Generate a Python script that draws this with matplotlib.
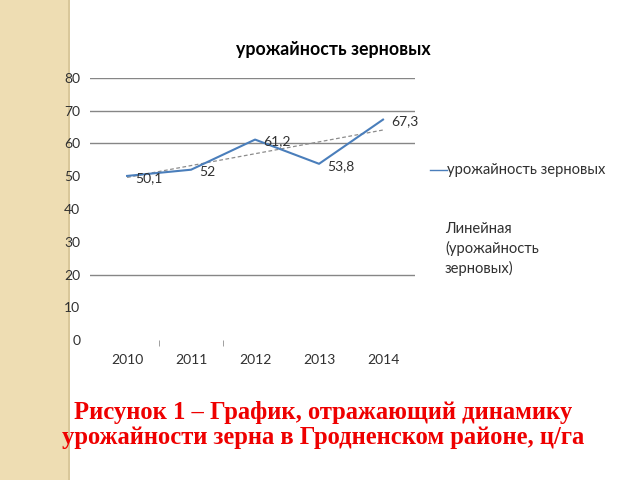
import numpy as np
import matplotlib
matplotlib.use("Agg")
import matplotlib.pyplot as plt
from matplotlib.lines import Line2D
from matplotlib.patches import Rectangle

# data
years = ["2010", "2011", "2012", "2013", "2014"]
yields = [50.1, 52, 61.2, 53.8, 67.3]
y_ticks = [0, 10, 20, 30, 40, 50, 60, 70, 80]
shown_grid = [20, 60, 70, 80]   # only these gridlines are visible in the original

title = "урожайность зерновых"
series_name = "урожайность зерновых"
trend_name = "Линейная\n(урожайность\nзерновых)"
caption = "Рисунок 1 – График, отражающий динамику\nурожайности зерна в Гродненском районе, ц/га"

plt.rcParams['font.family'] = ['Lato', 'DejaVu Sans']

fig = plt.figure(figsize=(6.4, 4.8), dpi=100)

# beige stripe on the left of the slide (behind everything)
fig.patches.append(Rectangle((0, 0), 70 / 640, 1, transform=fig.transFigure,
                             facecolor="#EEDDB3", edgecolor="none", zorder=-2))
fig.patches.append(Rectangle((68 / 640, 0), 2 / 640, 1, transform=fig.transFigure,
                             facecolor="#D9C79A", edgecolor="none", zorder=-2))

ax = fig.add_axes([90 / 640, 1 - 340 / 480, 325 / 640, 262 / 480])
ax.set_zorder(1)
ax.patch.set_alpha(0)

x = np.arange(len(years))
ax.plot(x, yields, color="#4A7EBB", lw=1.5, zorder=3)

# linear trend (like Excel's "Линейная")
k, b = np.polyfit(x, yields, 1)
ax.plot(x, k * x + b, color="#8C8C8C", lw=0.9, ls=(0, (3, 2)), zorder=2)

for xi, v in zip(x, yields):
    ax.annotate(f"{v:g}".replace(".", ","), (xi, v), xytext=(8, -2),
                textcoords="offset pixels", ha="left", va="center",
                fontsize=10, color="#303030")

ax.set_xlim(-0.58, 4.5)
ax.set_ylim(0, 80)
ax.set_xticks(x)
ax.set_xticklabels(years)
ax.set_xticks([0.5, 1.5], minor=True)
ax.set_yticks(y_ticks)
ax.tick_params(axis="both", which="major", length=0, labelsize=10, colors="#303030")
ax.tick_params(axis="x", which="major", pad=10)
ax.tick_params(axis="y", which="major", pad=7)
ax.tick_params(axis="x", which="minor", length=4, color="#909090", direction="out")

ax.yaxis.grid(True, color="#868686", lw=1)
for val, gl in zip(y_ticks, ax.yaxis.get_gridlines()):
    gl.set_visible(val in shown_grid)

for s in ax.spines.values():
    s.set_visible(False)

fig.text(333 / 640, 1 - 50 / 480, title, ha="center", va="center",
         fontsize=12.8, fontweight="bold", color="#000000")

# legend
fig.lines.append(Line2D([430 / 640, 447 / 640], [1 - 170 / 480] * 2,
                        transform=fig.transFigure, color="#4A7EBB", lw=1))
fig.text(447 / 640, 1 - 170 / 480, series_name, ha="left", va="center",
         fontsize=10.6, color="#303030")
fig.text(445 / 640, 1 - 222 / 480, trend_name, ha="left", va="top",
         fontsize=10.6, color="#303030", linespacing=1.4)

fig.text(323 / 640, 1 - 425 / 480, caption, ha="center", va="center",
         fontsize=17.7, fontweight="bold", color="#EE0000",
         family="Liberation Serif", linespacing=1.15)

fig.savefig("out.png", dpi=100)
